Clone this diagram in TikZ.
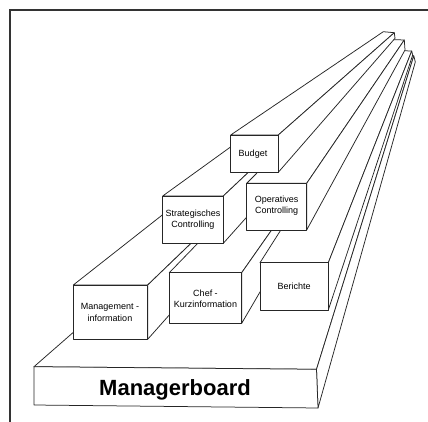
\documentclass[tikz,border=0pt]{standalone}
\usepackage{fontspec}
\setmainfont{Liberation Sans}
\begin{document}
\begin{tikzpicture}[x=1pt,y=-1pt,
  face/.style={fill=white,draw=black!85,line width=0.75pt,line join=round},
  frameline/.style={draw=black!80,line width=1.5pt},
  label/.style={font=\fontsize{9}{11.5}\selectfont,align=center,inner sep=0pt},
  title/.style={font=\fontsize{22}{26}\selectfont\bfseries,inner sep=0pt}]
\useasboundingbox (0,0) rectangle (428,422);

% a beam: front face A B C D, far corners E (top left), F (top right), G (bottom right)
\newcommand\drawbeam[1]{%
  \filldraw[face] (#1A) -- (#1B) -- (#1F) -- (#1E) -- cycle;
  \filldraw[face] (#1B) -- (#1C) -- (#1G) -- (#1F) -- cycle;
  \filldraw[face] (#1A) -- (#1B) -- (#1C) -- (#1D) -- cycle;}

% base board
\coordinate (bdA) at (34,366.7);  \coordinate (bdB) at (316.5,369.3);
\coordinate (bdC) at (318,408);   \coordinate (bdD) at (34,405);
\coordinate (bdE) at (390,55.5);  \coordinate (bdF) at (413.8,55.8);
\coordinate (bdG) at (415.3,62);
% first layer
\coordinate (mgA) at (73.3,285);  \coordinate (mgB) at (147.7,285);
\coordinate (mgC) at (147.7,339.3); \coordinate (mgD) at (73.3,339.3);
\coordinate (mgE) at (372,50);    \coordinate (mgF) at (392,50);
\coordinate (mgG) at (400,55);

\coordinate (chA) at (169.3,272.7); \coordinate (chB) at (241.7,272.7);
\coordinate (chC) at (241.7,323.3); \coordinate (chD) at (169.3,323.3);
\coordinate (chE) at (385,50);    \coordinate (chF) at (398,50);
\coordinate (chG) at (398.5,55);

\coordinate (beA) at (260,262.7); \coordinate (beB) at (328.3,262.7);
\coordinate (beC) at (328.3,310); \coordinate (beD) at (260,310);
\coordinate (beE) at (395,50.5);  \coordinate (beF) at (411.7,51);
\coordinate (beG) at (412.7,55);
% second layer
\coordinate (stA) at (162.7,196); \coordinate (stB) at (223.3,196);
\coordinate (stC) at (223.3,243.3); \coordinate (stD) at (162.7,243.3);
\coordinate (stE) at (380,39);    \coordinate (stF) at (389,39.5);
\coordinate (stG) at (387,60);

\coordinate (opA) at (246.7,183.3); \coordinate (opB) at (306.7,183.3);
\coordinate (opC) at (306.7,230); \coordinate (opD) at (246.7,230);
\coordinate (opE) at (390,39.5);  \coordinate (opF) at (404.3,40);
\coordinate (opG) at (405,50);
% top layer
\coordinate (buA) at (230.7,135); \coordinate (buB) at (278.3,135);
\coordinate (buC) at (278.3,172.3); \coordinate (buD) at (230.7,172.3);
\coordinate (buE) at (383.3,31.7); \coordinate (buF) at (394.3,32.7);
\coordinate (buG) at (395,38.3);

% frame
\draw[frameline] (10,422) -- (10,9.8) -- (428,9.8);

% beams, back to front
\drawbeam{bd}
\drawbeam{mg}
\drawbeam{ch}
\drawbeam{be}
\drawbeam{st}
\drawbeam{op}
\drawbeam{bu}

% labels
\node[title,anchor=base] (board) at (175,395) {Managerboard};
\node[label] (mgt) at (110,312.5) {Management -\\information};
\node[label] (chef) at (205.5,299) {Chef -\\Kurzinformation};
\node[label] (ber) at (294.2,286.7) {Berichte};
\node[label] (strat) at (193,219.7) {Strategisches\\Controlling};
\node[label] (oper) at (276.6,205.5) {Operatives\\Controlling};
\node[label] (bud) at (253,154) {Budget};
\end{tikzpicture}
\end{document}
